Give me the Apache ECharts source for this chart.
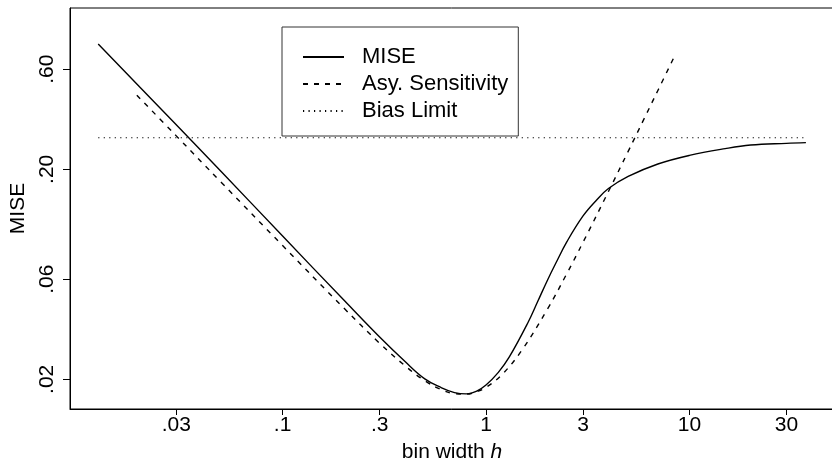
<!DOCTYPE html>
<html>
<head>
<meta charset="UTF-8">
<title>MISE vs bin width</title>
<script src="https://cdn.jsdelivr.net/npm/echarts@6/dist/echarts.min.js"></script>
</head>
<body style="margin:0">
<div id="chart" style="width:832px;height:462px"></div>
<script>
// values (log-log axes)
var miseH = [0.0124, 0.02, 0.03, 0.05, 0.1, 0.2, 0.3, 0.4, 0.5, 0.6, 0.7, 0.8, 0.9, 1, 1.15, 1.3, 1.6, 1.8, 2, 2.2, 2.5, 3, 3.5, 4, 5, 7, 10, 15, 20, 30, 37.4];
var miseV = [0.791, 0.489, 0.326, 0.195, 0.0962, 0.0477, 0.0318, 0.0243, 0.0201, 0.0183, 0.0173, 0.01705, 0.0176, 0.0188, 0.0216, 0.0255, 0.0369, 0.0472, 0.059, 0.0712, 0.0905, 0.12, 0.143, 0.162, 0.185, 0.212, 0.233, 0.251, 0.261, 0.266, 0.268];

var asyH = [0.0192, 0.03, 0.05, 0.1, 0.2, 0.3, 0.4, 0.5, 0.6, 0.7, 0.8, 0.9, 1, 1.2, 1.5, 2, 2.5, 3, 4, 5, 6, 7, 8.5];
var asyV = [0.451, 0.2887, 0.1732, 0.0867, 0.0437, 0.0297, 0.0232, 0.0197, 0.0179, 0.0171, 0.017, 0.0175, 0.0183, 0.0211, 0.0275, 0.043, 0.0639, 0.0899, 0.1569, 0.2435, 0.3496, 0.4751, 0.6996];

var biasH = [0.0124, 37.4];
var biasV = [0.2828, 0.2828];

var xTicks = [0.03, 0.1, 0.3, 1, 3, 10, 30];
var xTickLabels = ['.03', '.1', '.3', '1', '3', '10', '30'];
var yTicks = [0.02, 0.06, 0.2, 0.6];
var yTickLabels = ['.02', '.06', '.20', '.60'];

var font = 'Liberation Sans, Arial, sans-serif';

function pairs(xs, ys) {
    return xs.map(function (x, i) { return [x, ys[i]]; });
}
// pick the label of the nearest tick
function labelFor(ticks, labels) {
    return function (v) {
        var best = 0;
        for (var i = 1; i < ticks.length; i++) {
            if (Math.abs(Math.log(ticks[i] / v)) < Math.abs(Math.log(ticks[best] / v))) best = i;
        }
        return labels[best];
    };
}

var myChart = echarts.init(document.getElementById('chart'));

var option = {
    animation: false,
    backgroundColor: '#fff',
    textStyle: { fontFamily: font },
    grid: {
        left: 70, top: 8, right: -2, bottom: 53,
        outerBoundsMode: 'none',
        containLabel: false,
        show: true, borderColor: '#000', borderWidth: 1
    },
    legend: {
        left: 282, top: 27,
        orient: 'vertical',
        padding: [19, 10, 14, 20],
        itemGap: 5,
        itemWidth: 41, itemHeight: 14,
        borderColor: '#333', borderWidth: 1,
        itemStyle: { opacity: 0 },
        textStyle: { fontSize: 22, color: '#000', fontFamily: font, padding: [0, 0, 0, 13] },
        data: ['MISE', 'Asy. Sensitivity', 'Bias Limit']
    },
    xAxis: {
        type: 'log',
        min: 0.00901, max: 51.4,
        name: '{a|bin width }{b|h}',
        nameLocation: 'middle',
        nameGap: 33,
        nameTextStyle: {
            rich: {
                a: { fontSize: 21, fontFamily: font, color: '#000' },
                b: { fontSize: 21, fontFamily: font, color: '#000', fontStyle: 'italic' }
            }
        },
        axisLine: { lineStyle: { color: '#000', width: 1 } },
        axisTick: { length: 6, lineStyle: { color: '#000' }, customValues: xTicks },
        axisLabel: {
            fontSize: 21, color: '#000', margin: 6, fontFamily: font,
            customValues: xTicks,
            formatter: labelFor(xTicks, xTickLabels)
        },
        splitLine: { show: false },
        minorTick: { show: false }
    },
    yAxis: {
        type: 'log',
        min: 0.01445, max: 1.173,
        name: 'MISE',
        nameLocation: 'middle',
        nameGap: 40,
        nameTextStyle: { fontSize: 21, color: '#000', fontFamily: font },
        axisLine: { show: true, lineStyle: { color: '#000', width: 1 } },
        axisTick: { show: true, length: 7, lineStyle: { color: '#000' }, customValues: yTicks },
        axisLabel: {
            fontSize: 21, color: '#000', margin: 12, rotate: 90, fontFamily: font,
            customValues: yTicks,
            formatter: labelFor(yTicks, yTickLabels)
        },
        splitLine: { show: false },
        minorTick: { show: false }
    },
    series: [
        {
            name: 'MISE', type: 'line', smooth: 0.4,
            symbol: 'none', showSymbol: false,
            lineStyle: { color: '#000', width: 1.4, type: 'solid' },
            itemStyle: { color: '#000' },
            data: pairs(miseH, miseV)
        },
        {
            name: 'Asy. Sensitivity', type: 'line', smooth: 0.4,
            symbol: 'none', showSymbol: false,
            lineStyle: { color: '#000', width: 1.4, type: [5, 6] },
            itemStyle: { color: '#000' },
            data: pairs(asyH, asyV)
        },
        {
            name: 'Bias Limit', type: 'line',
            symbol: 'none', showSymbol: false,
            lineStyle: { color: '#000', width: 1.1, type: [1.2, 4.3] },
            itemStyle: { color: '#000' },
            data: pairs(biasH, biasV)
        }
    ]
};

myChart.setOption(option);
</script>
</body>
</html>
